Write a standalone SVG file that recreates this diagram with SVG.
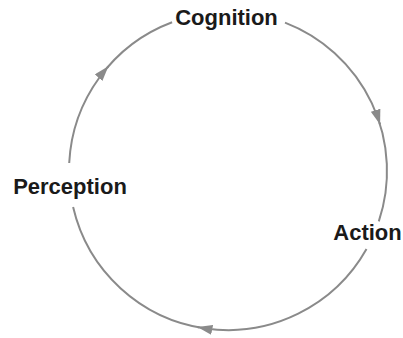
<svg xmlns="http://www.w3.org/2000/svg" width="403" height="338" viewBox="0 0 403 338">
  <style>
    .lbl { font-family: "Liberation Sans", Arial, sans-serif; font-weight: bold; font-size: 22px; fill: #1a1a1a; text-anchor: middle; }
    .arc { fill: none; stroke: #8a8a8a; stroke-width: 2; }
  </style>
  <defs>
    <marker id="ah" markerUnits="userSpaceOnUse" markerWidth="15" markerHeight="10" refX="15" refY="5" orient="auto">
      <path d="M0,0 L15,5 L0,10 z" fill="#8a8a8a"/>
    </marker>
  </defs>
  <rect width="403" height="338" fill="#ffffff"/>
  <g id="connectors">
    <path class="arc" d="M285,22.6 A159,159 0 0 1 378.8,221.4"/>
    <path class="arc" d="M366.5,249.1 A159,159 0 0 1 73.1,207"/>
    <path class="arc" d="M69.2,163 A159,159 0 0 1 172.1,22.2"/>
    <path class="arc" d="M379.5,122.6 L380.1,124.5" marker-end="url(#ah)"/>
    <path class="arc" d="M199.4,327.4 L197.4,327" marker-end="url(#ah)"/>
    <path class="arc" d="M107.1,67.8 L108.4,66.3" marker-end="url(#ah)"/>
  </g>
  <g id="cognition"><text class="lbl" x="226.5" y="25">Cognition</text></g>
  <g id="action"><text class="lbl" x="367.5" y="240">Action</text></g>
  <g id="perception"><text class="lbl" x="70" y="194">Perception</text></g>
</svg>
